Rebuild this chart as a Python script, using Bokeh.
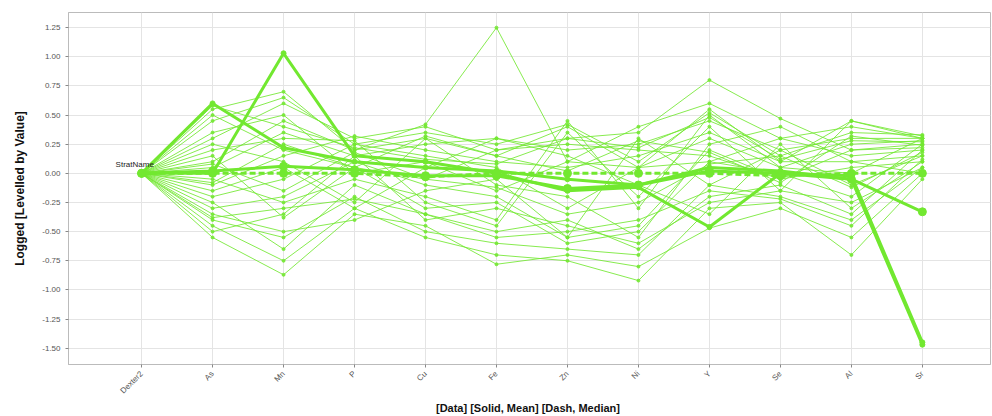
from bokeh.plotting import figure
from bokeh.models import Range1d, FixedTicker, NumeralTickFormatter, Label
from bokeh.embed import file_html
from bokeh.resources import INLINE
import math

categories = ["Dexter2", "As", "Mn", "P", "Cu", "Fe", "Zn", "Ni", "Y", "Se", "Al", "Sr"]
y_ticks = [-1.50, -1.25, -1.00, -0.75, -0.50, -0.25, 0.00, 0.25, 0.50, 0.75, 1.00, 1.25]

thin_series = [
    [0, 0.55, 0.70, 0.20, 0.30, 0.15, 0.40, 0.05, 0.55, 0.10, 0.45, 0.30],
    [0, 0.45, 0.65, 0.25, 0.35, 0.25, 0.42, 0.10, 0.52, 0.15, 0.35, 0.33],
    [0, 0.30, 0.60, 0.30, 0.40, 0.20, 0.30, 0.35, 0.80, 0.47, 0.20, 0.25],
    [0, 0.10, 0.45, 0.20, 0.42, 1.25, 0.10, 0.40, 0.60, 0.30, 0.15, 0.20],
    [0, 0.05, 0.35, 0.15, 0.25, 0.30, 0.20, 0.25, 0.45, 0.20, 0.30, 0.30],
    [0, -0.10, 0.15, 0.32, 0.20, 0.10, 0.05, 0.15, 0.35, 0.10, 0.10, 0.15],
    [0, -0.20, -0.05, 0.25, 0.15, 0.05, -0.30, 0.05, 0.30, 0.05, 0.25, 0.28],
    [0, -0.30, -0.20, 0.10, -0.10, -0.20, -0.55, -0.45, 0.20, -0.05, 0.05, 0.10],
    [0, -0.40, -0.55, -0.20, -0.50, -0.60, -0.65, -0.70, -0.10, -0.20, -0.40, 0.05],
    [0, -0.45, -0.75, -0.30, -0.55, -0.70, -0.75, -0.92, -0.30, -0.25, -0.70, -0.05],
    [0, -0.55, -0.87, -0.35, -0.45, -0.78, -0.70, -0.80, -0.47, -0.30, -0.55, 0.00],
    [0, -0.25, -0.65, -0.10, -0.35, -0.50, -0.40, -0.65, -0.20, -0.10, -0.35, 0.20],
    [0, 0.15, -0.38, 0.05, -0.30, -0.25, -0.60, -0.50, 0.10, 0.00, -0.20, 0.25],
    [0, -0.05, -0.25, -0.05, -0.20, -0.40, 0.45, -0.30, 0.50, 0.05, 0.00, 0.30],
    [0, 0.20, 0.30, 0.28, -0.25, -0.45, 0.35, -0.20, 0.40, -0.15, 0.45, 0.32],
    [0, -0.35, -0.50, -0.40, -0.15, -0.05, -0.55, 0.30, -0.10, 0.20, -0.10, 0.15],
    [0, 0.25, 0.10, -0.25, 0.30, -0.10, -0.20, -0.55, 0.25, 0.40, 0.10, 0.00],
    [0, -0.15, 0.05, -0.30, 0.05, 0.30, 0.15, -0.10, -0.35, 0.25, -0.30, 0.10],
    [0, 0.50, 0.20, 0.05, -0.05, 0.20, 0.25, 0.20, 0.15, -0.05, 0.20, 0.22],
    [0, -0.50, -0.35, 0.15, -0.40, -0.30, -0.45, -0.60, -0.25, -0.15, -0.25, 0.05],
    [0, 0.35, 0.50, 0.00, 0.10, -0.15, 0.10, 0.05, 0.10, 0.30, 0.40, 0.30],
    [0, 0.58, 0.40, 0.22, 0.12, 0.08, 0.30, 0.22, 0.48, 0.12, 0.28, 0.27],
    [0, -0.38, -0.30, -0.22, -0.35, -0.55, -0.50, -0.40, -0.15, -0.22, -0.45, 0.12],
    [0, 0.08, -0.15, 0.18, -0.05, -0.12, -0.35, -0.25, 0.08, 0.15, -0.12, 0.18],
    [0, -0.08, 0.25, 0.05, 0.32, 0.15, 0.02, 0.28, 0.18, -0.08, 0.32, 0.24],
]

thick_series = [
    [0, 0.60, 0.22, 0.10, 0.05, 0.02, -0.05, -0.10, 0.05, 0.02, -0.05, -1.47],
    [0, 0.00, 1.03, 0.15, 0.10, 0.00, -0.15, -0.12, -0.46, 0.00, -0.02, -1.45],
]

mean_values = [0, 0.02, 0.06, 0.03, -0.02, -0.02, -0.13, -0.10, 0.02, 0.00, -0.05, -0.33]
median_values = [0, 0.00, 0.00, 0.00, -0.03, 0.00, 0.00, 0.00, 0.00, -0.02, 0.00, 0.00]

label_text = "StratName"
x_title = "[Data] [Solid, Mean]  [Dash, Median]"
y_title = "Logged [Levelled by Value]"

GREEN = "#72E830"
xs = list(range(len(categories)))

p = figure(width=992, height=416, output_backend="svg", toolbar_location=None,
           x_range=Range1d(-1.03, 11.96), y_range=Range1d(-1.64, 1.38),
           background_fill_color="white", border_fill_color="white")
p.min_border_left = 68
p.min_border_right = 2
p.min_border_top = 12
p.min_border_bottom = 10
p.outline_line_color = "#bbbbbb"

for s in thin_series:
    p.line(xs, s, line_color=GREEN, line_width=1, line_alpha=0.85)
    p.scatter(xs, s, size=3, color=GREEN, alpha=0.85)
for s in thick_series:
    p.line(xs, s, line_color=GREEN, line_width=3)
    p.scatter(xs, s, size=5, color=GREEN)
p.line(xs, mean_values, line_color=GREEN, line_width=3)
p.scatter(xs, mean_values, size=8, color=GREEN)
p.line(xs, median_values, line_color=GREEN, line_width=3, line_dash="6 3")
p.scatter(xs, median_values, size=8, color=GREEN)

p.add_layout(Label(x=0, y=0.04, text=label_text, text_align="left", x_offset=-26,
                   text_font_size="8px", text_color="#222222", text_font="Liberation Sans"))

p.xaxis.ticker = FixedTicker(ticks=xs)
p.xaxis.major_label_overrides = {i: c for i, c in enumerate(categories)}
p.xaxis.major_label_orientation = math.pi / 4
p.yaxis.ticker = FixedTicker(ticks=y_ticks)
p.yaxis.formatter = NumeralTickFormatter(format="0.00")

for ax in (p.xaxis, p.yaxis):
    ax.minor_tick_line_color = None
    ax.major_tick_line_color = "#888888"
    ax.major_tick_out = 3
    ax.major_tick_in = 0
    ax.axis_line_color = "#bbbbbb"
    ax.major_label_text_font_size = "8px"
    ax.major_label_text_color = "#555555"
    ax.major_label_text_font = "Liberation Sans"
    ax.axis_label_text_font = "Liberation Sans"
    ax.axis_label_text_font_style = "bold"
    ax.axis_label_text_color = "#111111"

p.xaxis.axis_label = x_title
p.xaxis.axis_label_text_font_size = "11px"
p.xaxis.axis_label_standoff = 0
p.yaxis.axis_label = y_title
p.yaxis.axis_label_text_font_size = "12px"
p.yaxis.axis_label_standoff = 12

p.xgrid.grid_line_color = "#e4e4e4"
p.ygrid.grid_line_color = "#e4e4e4"

open("out.html", "w").write(file_html(p, INLINE))
